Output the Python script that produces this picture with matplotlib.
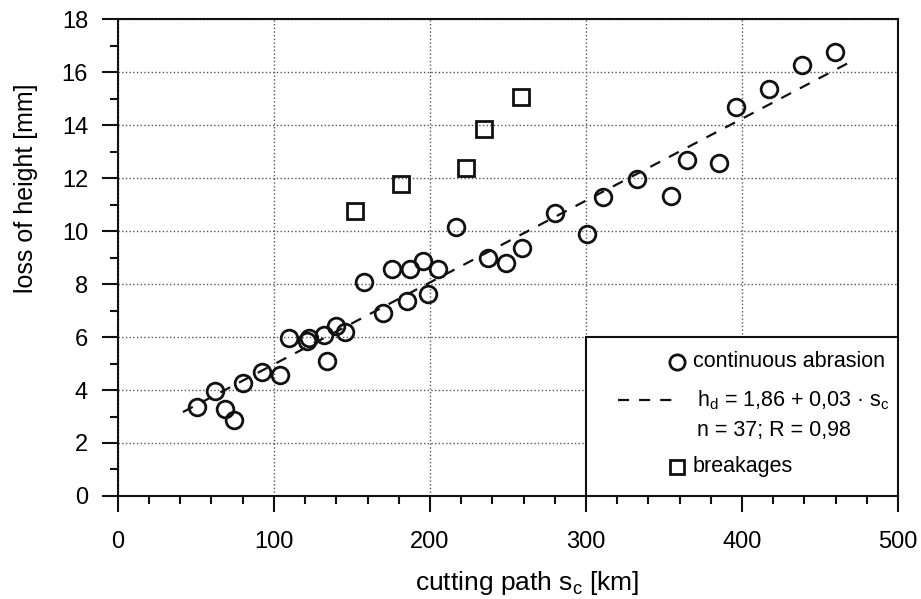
import numpy as np
import matplotlib
matplotlib.use("Agg")
import matplotlib.pyplot as plt
from matplotlib.patches import Rectangle
from matplotlib.ticker import MultipleLocator

# Donnees
abrasion_x = [50.9, 62.2, 68.6, 74.4, 80.3, 92.1, 103.8, 109.8, 121, 122.5, 132, 133.8,
              139.7, 145.5, 157.9, 170, 175.4, 185, 187.2, 195.7, 198.9, 205.3, 217,
              237.4, 248.7, 258.7, 280.1, 300.8, 311, 332.9, 354.3, 364.5, 385.4,
              396.2, 417.5, 438.7, 459.6]
abrasion_y = [3.37, 3.97, 3.27, 2.87, 4.25, 4.67, 4.57, 5.97, 5.85, 5.95, 6.07, 5.09,
              6.4, 6.2, 8.06, 6.89, 8.57, 7.37, 8.57, 8.88, 7.61, 8.57, 10.16,
              9.0, 8.78, 9.38, 10.69, 9.89, 11.3, 11.96, 11.32, 12.68, 12.58,
              14.67, 15.37, 16.26, 16.77]
breakage_x = [151.9, 181.4, 222.9, 234.8, 258.3]
breakage_y = [10.77, 11.77, 12.37, 13.85, 15.06]

# droite de regression (telle que dessinee)
fit_range = [41.7, 470]
fit_intercept = 1.88
fit_slope = 0.0309

legend_labels = ["continuous abrasion", r"h$_\mathrm{d}$ = 1,86 + 0,03 · s$_\mathrm{c}$",
                 "n = 37; R = 0,98", "breakages"]

plt.rcParams['font.family'] = ['Liberation Sans', 'DejaVu Sans']
plt.rcParams['mathtext.fontset'] = 'custom'
plt.rcParams['mathtext.rm'] = 'Liberation Sans'
plt.rcParams['mathtext.it'] = 'Liberation Sans:italic'

ink = '#111111'

fig = plt.figure(figsize=(9.21, 5.99), dpi=100)
ax = fig.add_axes([0.128, 0.172, 0.847, 0.796])

ax.set_xlim(0, 500)
ax.set_ylim(0, 18)
ax.xaxis.set_major_locator(MultipleLocator(100))
ax.xaxis.set_minor_locator(MultipleLocator(20))
ax.yaxis.set_major_locator(MultipleLocator(2))
ax.yaxis.set_minor_locator(MultipleLocator(1))
ax.tick_params(which='major', direction='out', length=11.5, width=1.5, labelsize=17,
               color=ink)
ax.tick_params(axis='x', which='major', pad=14)
ax.tick_params(axis='y', which='major', pad=10)
ax.tick_params(which='minor', direction='out', length=6, width=1.5, color=ink)
for s in ax.spines.values():
    s.set_linewidth(1.5)
    s.set_color(ink)

ax.grid(True, which='major', linestyle=':', color='#555555', linewidth=1.0)
ax.set_axisbelow(True)

xf = np.array(fit_range)
ax.plot(xf, fit_intercept + fit_slope * xf, linestyle=(0, (5, 4.5)), color=ink,
        linewidth=1.6, zorder=3)
ax.plot(abrasion_x, abrasion_y, 'o', markersize=12, markerfacecolor='none',
        markeredgecolor=ink, markeredgewidth=2.0, zorder=4)
ax.plot(breakage_x, breakage_y, 's', markersize=11, markerfacecolor='none',
        markeredgecolor=ink, markeredgewidth=2.0, zorder=4)

# titres des axes
fig.text(527 / 921, 1 - 583 / 599, r"cutting path s$_\mathrm{c}$ [km]", fontsize=19,
         ha='center', va='center')
fig.text(26 / 921, 1 - 188 / 599, "loss of height [mm]", rotation=90, fontsize=18,
         ha='center', va='center')

# legende dessinee a la main (boite en bas a droite)
tr = ax.transAxes
ax.add_patch(Rectangle((0.6, 0), 0.4, 1/3, transform=tr, facecolor='white',
                       edgecolor=ink, linewidth=1.5, zorder=5))
fs = 15.5
ax.plot([0.717], [0.281], 'o', transform=tr, markersize=11, markerfacecolor='none',
        markeredgecolor=ink, markeredgewidth=2.0, zorder=6)
ax.text(0.737, 0.281, legend_labels[0], transform=tr, fontsize=fs, va='center', zorder=6)
ax.plot([0.641, 0.721], [0.201, 0.201], transform=tr, linestyle=(0, (5, 4.5)),
        color=ink, linewidth=1.6, zorder=6)
ax.text(0.742, 0.201, legend_labels[1], transform=tr, fontsize=fs, va='center', zorder=6)
ax.text(0.742, 0.138, legend_labels[2], transform=tr, fontsize=fs, va='center', zorder=6)
ax.plot([0.717], [0.061], 's', transform=tr, markersize=10, markerfacecolor='none',
        markeredgecolor=ink, markeredgewidth=2.0, zorder=6)
ax.text(0.737, 0.061, legend_labels[3], transform=tr, fontsize=fs, va='center', zorder=6)

fig.savefig("out.png", dpi=100)
